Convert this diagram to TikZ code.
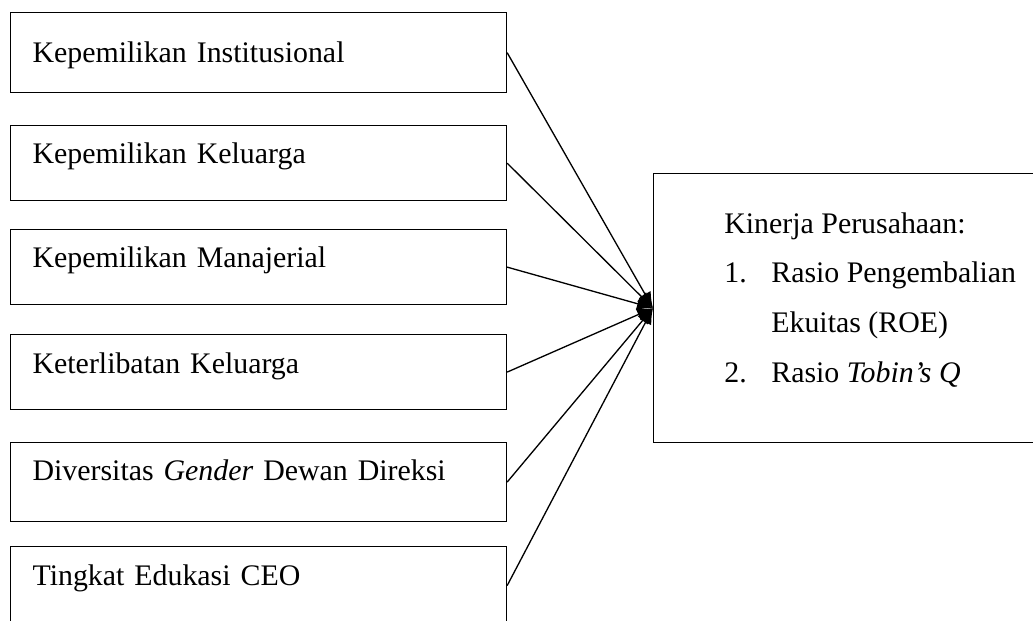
\documentclass[tikz,border=0pt]{standalone}
\usepackage{fontspec}
\setmainfont{Liberation Serif}
\usepackage{tikz}
\usetikzlibrary{arrows.meta, positioning}

\begin{document}
\begin{tikzpicture}[x=0.02cm, y=-0.02cm,
  factor/.style={draw, line width=0.7pt, anchor=north west, minimum width=9.92cm,
    text width=9.04cm, inner xsep=0.44cm, inner ysep=0pt, align=left,
    font=\fontsize{17}{20}\selectfont},
  perfbox/.style={draw, line width=0.7pt, anchor=north west, minimum width=8cm,
    minimum height=5.38cm, inner sep=0pt},
  link/.style={line width=0.75pt, -{Latex[length=0.32cm, width=0.26cm]}}]
\useasboundingbox (0,0) rectangle (1033,620);
% independent variables
\node[factor, text height=1.0cm, text depth=0.6cm] (inst) at (10,12) {Kepemilikan Institusional};
\node[factor, text height=0.76cm, text depth=0.74cm] (kel) at (10,125) {Kepemilikan Keluarga};
\node[factor, text height=0.76cm, text depth=0.74cm] (man) at (10,229) {Kepemilikan Manajerial};
\node[factor, text height=0.78cm, text depth=0.72cm] (terlibat) at (10,334) {Keterlibatan Keluarga};
\node[factor, text height=0.76cm, text depth=0.82cm] (gender) at (10,442) {Diversitas \textit{Gender} Dewan Direksi};
\node[factor, text height=0.78cm, text depth=0.78cm] (edu) at (10,546) {Tingkat Edukasi CEO};
% dependent variable
\node[perfbox] (perf) at (653,173) {};
\node[anchor=base west, inner sep=0pt, font=\fontsize{17}{28.4}\selectfont] (perftext) at (724,233)
  {\begin{tabular}[t]{@{}p{0.94cm}@{}l@{}}
   \multicolumn{2}{@{}l@{}}{Kinerja Perusahaan:}\\
   1. & Rasio Pengembalian\\
      & Ekuitas (ROE)\\
   2. & Rasio \textit{Tobin's Q}
   \end{tabular}};
% links
\draw[link] (inst.east) -- (perf.west);
\draw[link] (kel.east) -- (perf.west);
\draw[link] (man.east) -- (perf.west);
\draw[link] (terlibat.east) -- (perf.west);
\draw[link] (gender.east) -- (perf.west);
\draw[link] (edu.east) -- (perf.west);
\end{tikzpicture}
\end{document}
